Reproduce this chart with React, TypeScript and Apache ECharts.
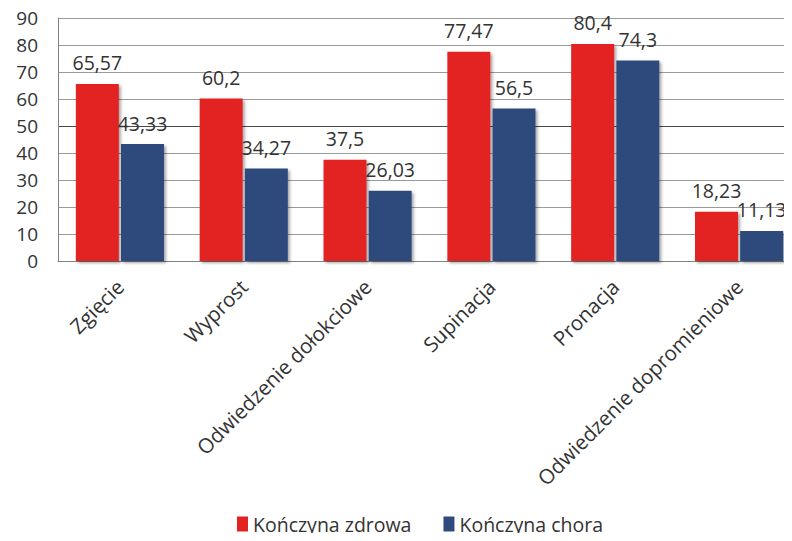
import React, { useEffect, useRef } from "react";
import * as echarts from "echarts";

const categories = [
  "Zgięcie",
  "Wyprost",
  "Odwiedzenie dołokciowe",
  "Supinacja",
  "Pronacja",
  "Odwiedzenie dopromieniowe",
];
const healthyLimb = [65.57, 60.2, 37.5, 77.47, 80.4, 18.23];
const affectedLimb = [43.33, 34.27, 26.03, 56.5, 74.3, 11.13];
const seriesNames = ["Kończyna zdrowa", "Kończyna chora"];

const FONT = "'Open Sans', 'Noto Sans', sans-serif";
const TEXT = "#333333";

const fmt = (v: number) => String(v).replace(".", ",");

export default function App() {
  const ref = useRef<HTMLDivElement>(null);

  useEffect(() => {
    if (!ref.current) return;
    const chart = echarts.init(ref.current, undefined, { renderer: "svg" });

    const barShadow = {
      shadowColor: "rgba(0,0,0,0.35)",
      shadowBlur: 3,
      shadowOffsetX: 2,
      shadowOffsetY: 2,
    };
    const valueLabel = {
      show: true,
      position: "top" as const,
      distance: 11,
      color: TEXT,
      fontFamily: FONT,
      fontSize: 19.5,
      formatter: (p: any) => fmt(p.value),
    };

    chart.setOption({
      animation: false,
      backgroundColor: "#ffffff",
      // the plot area runs a little past the right edge of the canvas
      grid: {
        left: 58,
        top: 18,
        bottom: 280,
        width: 743,
        containLabel: false,
        outerBoundsMode: "none",
      },
      legend: {
        top: 509,
        left: 232,
        itemWidth: 11,
        itemHeight: 15,
        itemGap: 32,
        itemTextGap: 5,
        icon: "rect",
        textStyle: { color: TEXT, fontFamily: FONT, fontSize: 19.5 },
        data: seriesNames,
      },
      xAxis: {
        type: "category",
        data: categories,
        axisLine: { show: true, lineStyle: { color: "#808080", width: 1 } },
        axisTick: { show: false },
        axisLabel: {
          rotate: 45,
          interval: 0,
          margin: 22,
          color: TEXT,
          fontFamily: FONT,
          fontSize: 20.5,
        },
      },
      yAxis: {
        type: "value",
        min: 0,
        max: 90,
        interval: 10,
        axisLine: { show: true, lineStyle: { color: "#808080", width: 1 } },
        axisTick: { show: false },
        axisLabel: {
          margin: 20,
          color: TEXT,
          fontFamily: FONT,
          fontSize: 19,
        },
        splitLine: {
          show: true,
          lineStyle: {
            color: [
              "#9a9a9a",
              "#9a9a9a",
              "#9a9a9a",
              "#9a9a9a",
              "#9a9a9a",
              "#4a4a4a",
              "#9a9a9a",
              "#9a9a9a",
              "#9a9a9a",
              "#9a9a9a",
            ],
            width: 1,
          },
        },
      },
      series: [
        {
          name: seriesNames[0],
          type: "bar",
          data: healthyLimb,
          barWidth: 43,
          barGap: "5%",
          itemStyle: { color: "#e32322", ...barShadow },
          label: valueLabel,
        },
        {
          name: seriesNames[1],
          type: "bar",
          data: affectedLimb,
          barWidth: 43,
          itemStyle: { color: "#2f4a7c", ...barShadow },
          label: valueLabel,
        },
      ],
    });

    return () => chart.dispose();
  }, []);

  return <div ref={ref} style={{ width: 792, height: 541, margin: -8 }} />;
}
